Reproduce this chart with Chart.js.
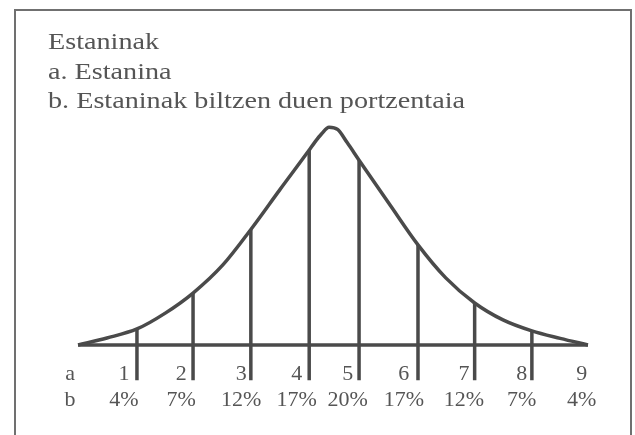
<!DOCTYPE html>
<html>
<head>
<meta charset="utf-8">
<script src="https://cdn.jsdelivr.net/npm/chart.js@4/dist/chart.umd.min.js"></script>
<style>
  body { margin: 0; background: #fff; }
  #wrap { width: 635px; height: 435px; }
</style>
</head>
<body>
<div id="wrap"><canvas id="myChart" width="635" height="435"></canvas></div>
<script>
// Heading lines (top left)
const titleLines = ['Estaninak', 'a. Estanina', 'b. Estaninak biltzen duen portzentaia'];

// Bell curve: x in stanine units (0 = left foot, 9 = right foot),
// y = height relative to the peak (peak ~ 100)
const curveX = [0, 0.51, 1.04, 1.54, 2.03, 2.56, 3.05, 3.56, 4.08, 4.18, 4.30, 4.43, 4.58, 4.75, 4.96, 5.51, 6.0, 6.49, 7.0, 7.5, 8.01, 8.51, 9];
const curveY = [0, 3.2, 7.3, 14.5, 23.6, 36.5, 52.5, 70.5, 88.6, 92.2, 96, 99, 98, 92, 84, 63.5, 45.5, 30.5, 19.1, 11.4, 6.4, 3.0, 0];

// Vertical dividers: position and where they meet the curve
const dividerX = [1.04, 2.03, 3.05, 4.08, 4.96, 6.0, 7.0, 8.01];
const dividerTop = [7.3, 23.6, 52.5, 88.6, 84, 45.5, 19.1, 6.4];
const dividerBottom = -16;

// Label rows under the baseline
const labelX = [-0.14, 0.81, 1.82, 2.88, 3.86, 4.76, 5.75, 6.81, 7.83, 8.89];
const rowA = ['a', '1', '2', '3', '4', '5', '6', '7', '8', '9'];
const rowB = ['b', '4%', '7%', '12%', '17%', '20%', '17%', '12%', '7%', '4%'];

const ink = '#4a4a4a';
const textInk = '#555555';
const serif = "'Liberation Serif', 'Times New Roman', 'DejaVu Serif', serif";

// datasets
const datasets = [];
datasets.push({
    label: 'curve',
    data: curveX.map((x, i) => ({ x: x, y: curveY[i] })),
    borderColor: ink,
    borderWidth: 3.5,
    pointRadius: 0,
    cubicInterpolationMode: 'monotone',
    fill: false,
    clip: false
});
datasets.push({
    label: 'baseline',
    data: [{ x: curveX[0], y: 0 }, { x: curveX[curveX.length - 1], y: 0 }],
    borderColor: ink,
    borderWidth: 3.5,
    pointRadius: 0,
    clip: false
});
dividerX.forEach((x, i) => {
    datasets.push({
        label: 'div' + i,
        data: [{ x: x, y: dividerTop[i] }, { x: x, y: dividerBottom }],
        borderColor: ink,
        borderWidth: 3.5,
        pointRadius: 0,
        borderCapStyle: 'butt',
        clip: false
    });
});

// frame + heading
const decor = {
    id: 'decor',
    beforeDraw: (chart) => {
        const { ctx } = chart;
        ctx.save();
        ctx.fillStyle = '#fff';
        ctx.fillRect(0, 0, chart.width, chart.height);
        ctx.strokeStyle = '#707070';
        ctx.lineWidth = 2;
        ctx.strokeRect(15, 10, 616, 440);
        ctx.restore();
    },
    afterDraw: (chart) => {
        const { ctx } = chart;
        ctx.save();
        ctx.fillStyle = textInk;
        ctx.font = '24px ' + serif;
        ctx.textBaseline = 'alphabetic';
        const w = ctx.measureText(titleLines[2]).width;
        const sx = 417 / w; // match the width of the scanned type
        titleLines.forEach((t, i) => {
            ctx.save();
            ctx.translate(48, 49 + i * 29.5);
            ctx.scale(sx, 1);
            ctx.fillText(t, 0, 0);
            ctx.restore();
        });
        ctx.restore();
    }
};

new Chart(document.getElementById('myChart').getContext('2d'), {
    type: 'line',
    data: { datasets: datasets },
    options: {
        responsive: false,
        animation: false,
        layout: { padding: { top: 125, bottom: 54.8, left: 49.7, right: 18.7 } },
        plugins: { legend: { display: false }, tooltip: { enabled: false } },
        scales: {
            x: {
                type: 'linear',
                min: -0.5,
                max: 9.5,
                position: { y: 0 },
                border: { display: false },
                grid: { display: false, drawTicks: false },
                afterBuildTicks: (scale) => {
                    scale.ticks = labelX.map(v => ({ value: v }));
                },
                ticks: {
                    autoSkip: false,
                    maxRotation: 0,
                    minRotation: 0,
                    padding: 16,
                    color: textInk,
                    font: { family: serif, size: 22, lineHeight: 1.2 },
                    callback: (value, index) => [rowA[index], rowB[index]]
                }
            },
            y: {
                type: 'linear',
                display: false,
                min: dividerBottom,
                max: 100
            }
        }
    },
    plugins: [decor]
});
</script>
</body>
</html>
